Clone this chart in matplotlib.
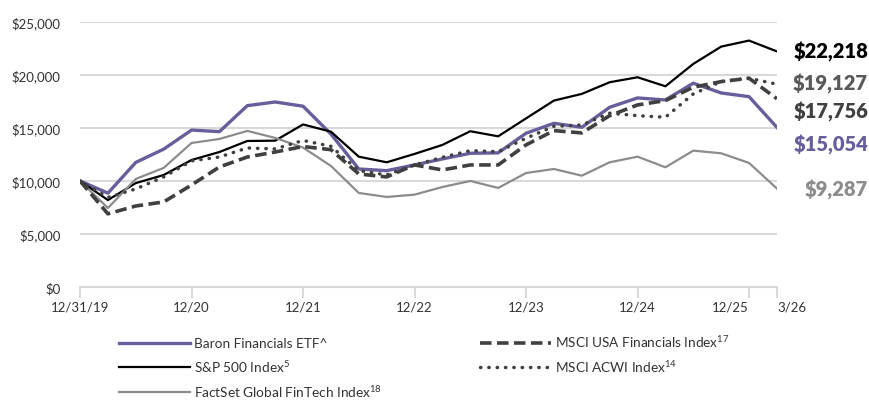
import numpy as np
import matplotlib
matplotlib.use("Agg")
import matplotlib.pyplot as plt

plt.rcParams['font.family'] = ['Lato', 'DejaVu Sans']
plt.rcParams['mathtext.fontset'] = 'custom'
plt.rcParams['mathtext.rm'] = 'Lato'
plt.rcParams['mathtext.it'] = 'Lato'

# quarterly values, 12/31/19 .. 3/31/26 (growth of $10,000)
quarters = np.arange(26)
baron = [10000, 8850, 11750, 13000, 14800, 14650, 17100, 17450, 17050, 14430, 11130, 10970,
         11510, 12080, 12610, 12650, 14500, 15440, 15060, 16950, 17830, 17640, 19220, 18300,
         17950, 15054]
sp500 = [10000, 8200, 9800, 10560, 11980, 12730, 13770, 13800, 15330, 14650, 12290, 11760,
         12550, 13400, 14690, 14210, 15900, 17580, 18210, 19310, 19780, 18930, 21040, 22670,
         23240, 22218]
msci_fin = [10000, 6900, 7640, 8020, 9620, 11320, 12260, 12730, 13250, 12950, 10660, 10380,
            11510, 11040, 11510, 11510, 13400, 14750, 14530, 16160, 17170, 17580, 18840, 19370,
            19690, 17756]
acwi = [10000, 8450, 9250, 10380, 11890, 12260, 13110, 13020, 13820, 13270, 10970, 10570,
        11510, 12230, 12860, 12760, 14030, 15160, 15280, 16390, 16160, 16010, 18210, 19370,
        19690, 19127]
fintech = [10000, 7450, 10190, 11230, 13580, 13960, 14720, 14060, 13150, 11420, 8870, 8490,
           8710, 9430, 10000, 9340, 10750, 11130, 10500, 11760, 12290, 11290, 12860, 12610,
           11700, 9287]

tick_pos = [0, 4, 8, 12, 16, 20, 24, 25]
tick_labels = ['12/31/19', '12/20', '12/21', '12/22', '12/23', '12/24', '12/25', '3/26']
end_labels = ['$22,218', '$19,127', '$17,756', '$15,054', '$9,287']

purple = '#6a5d9b'
dark = '#404040'
grey = '#8c8c8c'

fig = plt.figure(figsize=(8.7, 4.02), dpi=100)
ax = fig.add_axes([0.092, 0.2836, 0.801, 0.6594])

l1, = ax.plot(quarters, baron, color=purple, lw=2.4, label='Baron Financials ETF^')
l2, = ax.plot(quarters, sp500, color='black', lw=1.6, label='S&P 500 Index$^{5}$')
l3, = ax.plot(quarters, fintech, color=grey, lw=1.6, label='FactSet Global FinTech Index$^{18}$')
l4, = ax.plot(quarters, msci_fin, color=dark, lw=2.6, ls=(0, (3.2, 1.5)),
              label='MSCI USA Financials Index$^{17}$')
l5, = ax.plot(quarters, acwi, color=dark, lw=2.5, ls=(0, (0.1, 2.3)), dash_capstyle='round',
              label='MSCI ACWI Index$^{14}$')

ax.set_xlim(0, 25)
ax.set_ylim(0, 25000)
ax.set_yticks(np.arange(0, 25001, 5000))
ax.set_yticklabels(['\\$' + format(v, ',') for v in range(0, 25001, 5000)])
ax.grid(axis='y', color='#d9d9d9', lw=1.5)
ax.set_axisbelow(True)
for s in ['top', 'right', 'left']:
    ax.spines[s].set_visible(False)
ax.spines['bottom'].set_color('#d9d9d9')
ax.spines['bottom'].set_linewidth(1.5)
ax.set_xticks(tick_pos)
ax.set_xticklabels(tick_labels)
ax.tick_params(axis='x', length=8, width=1.5, color='#d9d9d9', labelsize=9.5,
               labelcolor='#333333', pad=2)
ax.tick_params(axis='y', length=0, labelsize=9.5, labelcolor='#333333', pad=14)
xl = ax.get_xticklabels()
xl[6].set_horizontalalignment('right')
xl[6].set_x(24.4)
xl[7].set_horizontalalignment('left')

# end value labels
label_y = [52, 84, 112, 145, 190]
label_col = ['black', '#595959', dark, purple, grey]
for txt, yp, c in zip(end_labels, label_y, label_col):
    fig.text(868 / 870, 1 - yp / 402, txt.replace('$', '\\$'), ha='right', va='center',
             fontsize=14.5, fontweight='heavy', color=c)

fig.legend(handles=[l1, l2, l3, l4, l5], loc='upper left', bbox_to_anchor=(0.137, 0.168),
           ncol=2, frameon=False, fontsize=9.8, handlelength=5.2, handletextpad=0.3,
           columnspacing=7.2, labelspacing=0.66, borderaxespad=0, borderpad=0,
           labelcolor='#333333')

fig.savefig('out.png', dpi=100)
